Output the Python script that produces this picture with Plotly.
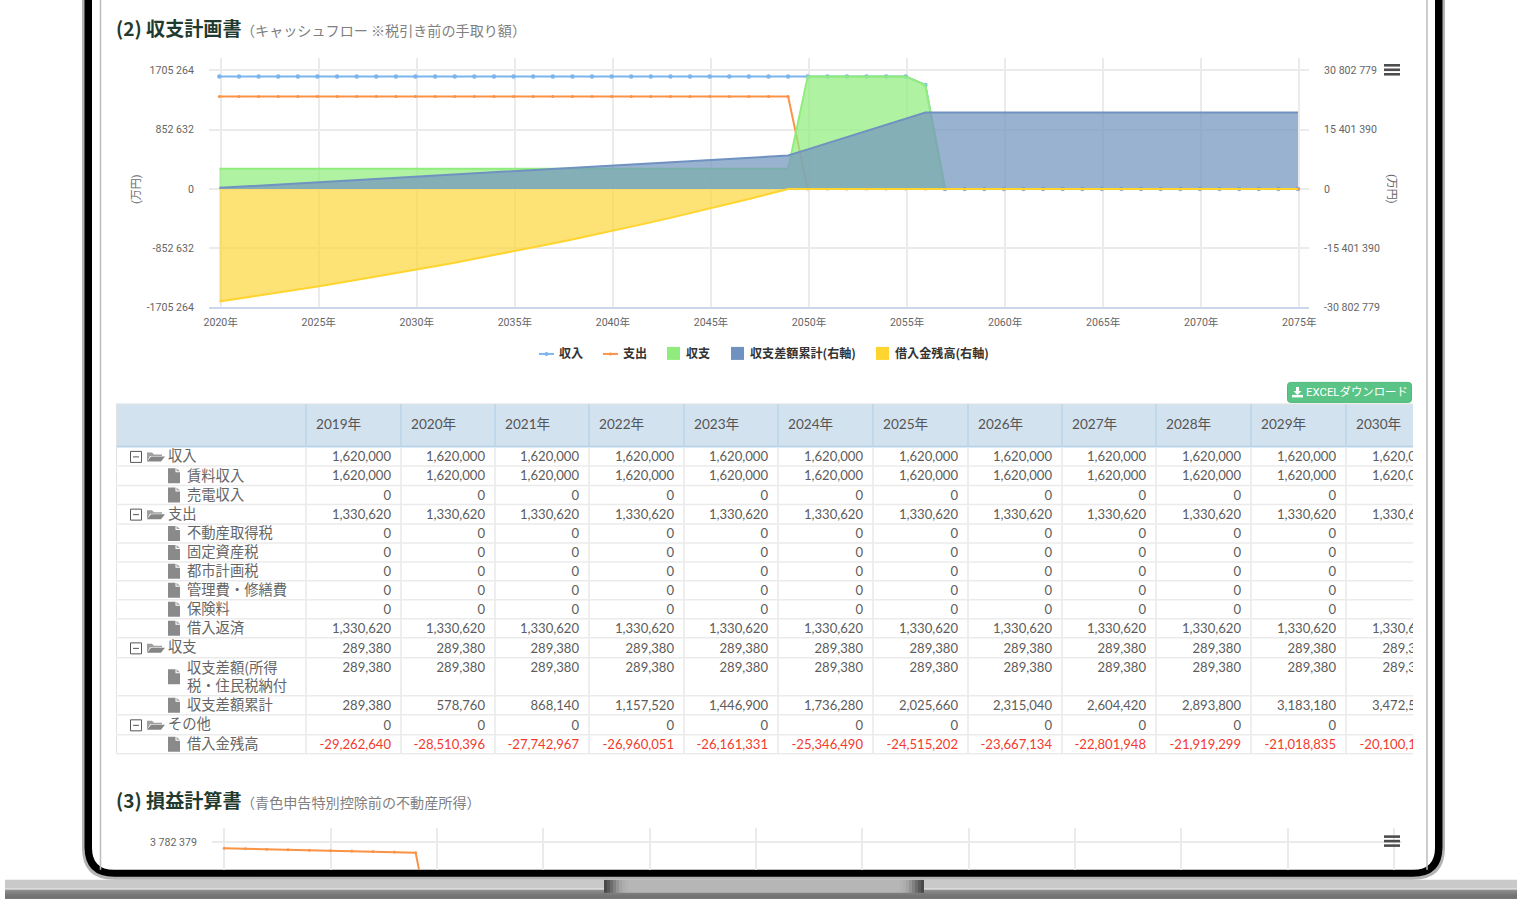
import plotly.graph_objects as go

# ---------- chart data ----------
years = list(range(2020, 2076))
income = [1620000] * 36 + [1496000] + [0] * 19
expense = [1330620] * 30 + [0] * 26
balance = [289380] * 30 + [1620000] * 6 + [1496000] + [0] * 19
cumulative = [289380, 578760, 868140, 1157520, 1446900, 1736280, 2025660, 2315040, 2604420, 2893800,
              3183180, 3472560, 3761940, 4051320, 4340700, 4630080, 4919460, 5208840, 5498220, 5787600,
              6076980, 6366360, 6655740, 6945120, 7234500, 7523880, 7813260, 8102640, 8392020, 8681400,
              10301400, 11921400, 13541400, 15161400, 16781400, 18401400, 19897400] + [19897400] * 19
loan = [-29262640, -28510396, -27742967, -26960051, -26161331, -25346490, -24515202, -23667134,
        -22801948, -21919299, -21018835, -20100195, -19163012, -18206912, -17231514, -16236428,
        -15221256, -14185594, -13129028, -12051136, -10951487, -9829642, -8685153, -7517563,
        -6326406, -5111206, -3871477, -2606725, -1316444, 0] + [0] * 26
left_ticks = [1705264, 852632, 0, -852632, -1705264]
left_labels = ["1705 264", "852 632", "0", "-852 632", "-1705 264"]
right_ticks = [30802779, 15401390, 0, -15401390, -30802779]
right_labels = ["30 802 779", "15 401 390", "0", "-15 401 390", "-30 802 779"]
x_ticks = list(range(2020, 2076, 5))
legend_names = ["収入", "支出", "収支", "収支差額累計(右軸)", "借入金残高(右軸)"]

# second (cut off) chart
pl_years = list(range(2020, 2031))
pl_values = [3590000, 3575000, 3560000, 3545000, 3530000, 3515000, 3500000, 3485000, 3470000, 3450000, 0]
pl_grid_years = list(range(2020, 2076, 5))

# ---------- table data ----------
table_years = ["2019年", "2020年", "2021年", "2022年", "2023年", "2024年", "2025年", "2026年", "2027年", "2028年", "2029年", "2030年"]
row_labels = ["収入", "賃料収入", "売電収入", "支出", "不動産取得税", "固定資産税", "都市計画税", "管理費・修繕費", "保険料", "借入返済",
              "収支", "収支差額(所得<br>税・住民税納付", "収支差額累計", "その他", "借入金残高"]
row_is_group = [True, False, False, True, False, False, False, False, False, False, True, False, False, True, False]
r_income = [1620000] * 12
r_rent = [1620000] * 12
r_solar = [0] * 12
r_expense = [1330620] * 12
r_acq = [0] * 12
r_prop = [0] * 12
r_city = [0] * 12
r_mgmt = [0] * 12
r_ins = [0] * 12
r_repay = [1330620] * 12
r_bal = [289380] * 12
r_diff = [289380] * 12
r_cum = [289380, 578760, 868140, 1157520, 1446900, 1736280, 2025660, 2315040, 2604420, 2893800, 3183180, 3472560]
r_other = [0] * 12
r_loan = [-29262640, -28510396, -27742967, -26960051, -26161331, -25346490, -24515202, -23667134, -22801948, -21919299, -21018835, -20100195]
table_rows = [r_income, r_rent, r_solar, r_expense, r_acq, r_prop, r_city, r_mgmt, r_ins, r_repay, r_bal, r_diff, r_cum, r_other, r_loan]

# ---------- layout geometry ----------
# All geometry below is in reference-picture pixels; the figure box maps onto VX0..VX1 / 0..VY1 of it.
W, H = 1525, 906
VX0, VX1, VY1 = 5.0, 1517.0, 899.2
col_edges = [306, 401, 495, 589, 684, 778, 873, 968, 1062, 1156, 1251, 1346, 1441]
row_lines = [447, 466, 485.5, 504.5, 524, 543, 562, 581, 600, 619, 638, 658, 696, 715, 735, 754]
SMALL = "Roboto, 'Noto Sans CJK JP', sans-serif"
CJK = "'Noto Sans CJK JP', sans-serif"
LATO = "Lato, 'Noto Sans CJK JP', sans-serif"
GRID = "#ebebeb"
TXT = "#666666"
TEXT_DY = 1.5

def dx(a, b):
    return [(a - VX0) / (VX1 - VX0), (b - VX0) / (VX1 - VX0)]

def dy(top, bottom):
    return [1 - bottom / VY1, 1 - top / VY1]

fig = go.Figure()

fig.add_trace(go.Scatter(x=[100], y=[100], mode="markers", marker=dict(opacity=0), hoverinfo="skip",
                         showlegend=False, xaxis="x", yaxis="y"))

def area(name, values, color, fill, yaxis):
    fig.add_trace(go.Scatter(x=years, y=values, name=name, mode="lines", line=dict(color=color, width=2),
                             fill="tozeroy", fillcolor=fill, xaxis="x2", yaxis=yaxis, showlegend=False,
                             hoverinfo="skip"))

fig.add_trace(go.Scatter(x=years, y=income, name=legend_names[0], mode="lines+markers",
                         line=dict(color="#7cb5ec", width=2), marker=dict(size=4.5, color="#7cb5ec"),
                         xaxis="x2", yaxis="y2", showlegend=False))
fig.add_trace(go.Scatter(x=years, y=expense, name=legend_names[1], mode="lines+markers",
                         line=dict(color="#fb9346", width=2), marker=dict(size=3, color="#fb9346"),
                         xaxis="x2", yaxis="y2", showlegend=False))
area(legend_names[2], balance, "#90ed7d", "rgba(144,237,125,0.72)", "y2")
area(legend_names[3], cumulative, "#7092c0", "rgba(119,152,191,0.75)", "y3")
area(legend_names[4], loan, "#ffd42e", "rgba(252,214,60,0.7)", "y3")

fig.add_trace(go.Scatter(x=pl_years, y=pl_values, mode="lines+markers", line=dict(color="#fb9346", width=2),
                         marker=dict(size=3, color="#fb9346"), xaxis="x3", yaxis="y4", showlegend=False))

num_x, num_y, num_t, num_c = [], [], [], []
for r, vals in enumerate(table_rows):
    cy = (row_lines[r] + row_lines[r + 1]) / 2
    if "<br>" in row_labels[r]:
        cy = row_lines[r] + 9.5
    for c, v in enumerate(vals):
        num_x.append(col_edges[c + 1] - 10)
        num_y.append(cy + TEXT_DY)
        num_t.append(f"{v:,}")
        num_c.append("#f23a2e" if v < 0 else "#5c5c5c")
fig.add_trace(go.Scatter(x=num_x, y=num_y, text=num_t, mode="text", textposition="middle left",
                         textfont=dict(family=LATO, size=13.1, color=num_c), marker=dict(size=1),
                         xaxis="x4", yaxis="y5", showlegend=False, hoverinfo="skip", cliponaxis=True))
hdr_x = [e + 10 for e in col_edges[:-1]]
fig.add_trace(go.Scatter(x=hdr_x, y=[424.5 + TEXT_DY - 0.5] * 12, text=table_years, mode="text", textposition="middle right",
                         textfont=dict(family=LATO, size=13.6, color="#555555"), marker=dict(size=1),
                         xaxis="x4", yaxis="y5", showlegend=False, hoverinfo="skip", cliponaxis=True))
lab_x = [168 if g else 187 for g in row_is_group]
lab_y = [(row_lines[i] + row_lines[i + 1]) / 2 - (0.5 if row_is_group[i] else 0) + TEXT_DY for i in range(15)]
fig.add_trace(go.Scatter(x=lab_x, y=lab_y, text=row_labels, mode="text", textposition="middle right",
                         textfont=dict(family=CJK, size=14.3, color="#666666"), marker=dict(size=1),
                         xaxis="x4", yaxis="y5", showlegend=False, hoverinfo="skip", cliponaxis=True))

shapes = []
def rect(x0, y0, x1, y1, fill, layer="below"):
    shapes.append(dict(type="rect", xref="x", yref="y", x0=x0, y0=y0, x1=x1, y1=y1, fillcolor=fill,
                       line=dict(width=0), layer=layer))
def seg(x0, y0, x1, y1, color, width=1, layer="below"):
    shapes.append(dict(type="line", xref="x", yref="y", x0=x0, y0=y0, x1=x1, y1=y1,
                       line=dict(color=color, width=width), layer=layer))
def path(d, fill, layer="below", lc=None, lw=0):
    shapes.append(dict(type="path", xref="x", yref="y", path=d, fillcolor=fill,
                       line=dict(width=lw, color=lc or fill), layer=layer))
def rounded(x0, x1, bottom, r, fill):
    path(f"M{x0},0 L{x0},{bottom-r} Q{x0},{bottom} {x0+r},{bottom} L{x1-r},{bottom} Q{x1},{bottom} {x1},{bottom-r} L{x1},0 Z", fill)

rect(VX0, 880, VX1, 890, "#c9c9c9")
rect(VX0, 888.5, VX1, 890, "#e2e2e2")
dark_bands = ["#777777", "#6f6f6f", "#696969", "#636363", "#5d5d5d", "#585858", "#545454", "#505050", "#4e4e4e"]
for i, c in enumerate(dark_bands):
    rect(VX0, 890 + i, VX1, 891 + i, c)
notch = ["#4a4a4a", "#5a5a5a", "#6c6c6c", "#808080", "#949494", "#a4a4a4", "#adadad", "#b2b2b2"]
for i, c in enumerate(notch):
    rect(604 + i * 3, 880, 607 + i * 3, 893, c)
    rect(921 - i * 3, 880, 924 - i * 3, 893, c)
rect(628, 880, 900, 893, "#b6b6b6")
rounded(82, 1445, 880, 32, "#b4b4b4")
rounded(84.5, 1442.5, 877, 30, "#000000")
rounded(92, 1435, 870, 22, "#ffffff")
seg(100.5, 0, 100.5, 870, "#bdbdbd", 1.5)
seg(1427, 0, 1427, 870, "#bdbdbd", 1.5)

rect(116, 404, 1413, 446, "#d2e2ef")
seg(116, 404, 1413, 404, "#e4e4e4", 1)
seg(116, 446.5, 1413, 446.5, "#b9d4e8", 2)
for e in col_edges[:-1]:
    seg(e, 404, e, 446, "#b9d4e8", 1.5)
    seg(e, 447, e, 754, "#e8e8e8", 1.5)
seg(116.5, 404, 116.5, 754, "#e2e2e2", 1)
for y in row_lines[1:]:
    seg(116, y, 1413, y, "#ebebeb", 1.5)

for i, g in enumerate(row_is_group):
    cy = (row_lines[i] + row_lines[i + 1]) / 2
    if g:
        shapes.append(dict(type="rect", xref="x", yref="y", x0=130.5, x1=141.5, y0=cy - 5, y1=cy + 6,
                           fillcolor="#ffffff", line=dict(color="#555555", width=1), layer="above"))
        seg(133, cy + 0.5, 139, cy + 0.5, "#555555", 1, "above")
        path(f"M147,{cy+5} L147,{cy-4} L152,{cy-4} L154,{cy-2} L162,{cy-2} L162,{cy-0.5} L150,{cy-0.5} Z", "#a0a0a0", "above")
        path(f"M147,{cy+5} L151,{cy} L165,{cy} L161,{cy+5} Z", "#858585", "above")
    else:
        path(f"M168,{cy-7.5} L175.5,{cy-7.5} L175.5,{cy-3.5} L180,{cy-3.5} L180,{cy+7.5} L168,{cy+7.5} Z", "#8a8a8a", "above")
        path(f"M176.5,{cy-7.5} L180,{cy-4.5} L176.5,{cy-4.5} Z", "#a5a5a5", "above")

path("M1290.5,382.5 L1408.5,382.5 Q1411.5,382.5 1411.5,385.5 L1411.5,399.5 Q1411.5,402.5 1408.5,402.5 "
     "L1290.5,402.5 Q1287.5,402.5 1287.5,399.5 L1287.5,385.5 Q1287.5,382.5 1290.5,382.5 Z", "#5ac487", "below", "#4fb87c", 1)
path("M1296,387 L1299,387 L1299,391 L1301.5,391 L1297.5,395 L1293.5,391 L1296,391 Z", "#ffffff", "above")
rect(1292, 395, 1303, 397.5, "#ffffff", "above")

for top in (64, 835.5):
    for k in (0, 4.5, 9):
        rect(1384, top + k, 1400, top + k + 2.6, "#4d4d4d", "above")

seg(539, 354, 554, 354, "#7cb5ec", 2, "above")
shapes.append(dict(type="circle", xref="x", yref="y", x0=544.5, x1=548.5, y0=352, y1=356, fillcolor="#7cb5ec", line=dict(width=0), layer="above"))
seg(603, 354, 618, 354, "#fb9346", 2, "above")
shapes.append(dict(type="circle", xref="x", yref="y", x0=609, x1=612, y0=352.5, y1=355.5, fillcolor="#fb9346", line=dict(width=0), layer="above"))
rect(667, 347, 680, 360, "#90ed7d", "above")
rect(731, 347, 744, 360, "#7092c0", "above")
rect(876, 347, 889, 360, "#ffd42e", "above")

ann = []
def label(x, y, text, size, color, family=CJK, xanchor="left", angle=0):
    ann.append(dict(xref="x", yref="y", x=x, y=y, text=text, showarrow=False, xanchor=xanchor, yanchor="middle",
                    font=dict(family=family, size=size, color=color), textangle=angle))

label(114, 28, "<b>(2) 収支計画書</b>", 19.1, "#1f3a2e")
label(238.5, 30, "（キャッシュフロー ※税引き前の手取り額）", 14.1, "#808080")
label(114, 800, "<b>(3) 損益計算書</b>", 19.1, "#1f3a2e")
label(238.5, 802, "（青色申告特別控除前の不動産所得）", 14.1, "#808080")
label(137, 189, "(万円)", 11, TXT, SMALL, "center", -90)
label(1391, 189, "(万円)", 11, TXT, SMALL, "center", 90)
for x, name in zip([557, 621, 684, 748, 893], legend_names):
    label(x, 353, f"<b>{name}</b>", 12.1, "#333333")
label(1303.5, 392.5, "EXCELダウンロード", 11.4, "#ffffff", SMALL)

tickfont = dict(family=SMALL, size=10.6, color=TXT)
clear = "rgba(0,0,0,0)"
hidden = dict(visible=False, fixedrange=True)

x_off = 0.066
main_x = dict(domain=dx(209, 1309), range=[2019.47, 2075.56], tickmode="array",
              tickvals=[y + x_off for y in x_ticks], ticktext=[f"{y}年" for y in x_ticks],
              showgrid=True, gridcolor=GRID, gridwidth=1.5, zeroline=False, showline=True, linecolor="#ccd6eb", linewidth=1.5,
              ticks="outside", ticklen=4, tickcolor=clear, tickfont=tickfont, anchor="y2", fixedrange=True)

fig.update_layout(
    width=W, height=H, autosize=False, margin=dict(l=0, r=0, t=0, b=0), showlegend=False,
    paper_bgcolor="#ffffff", plot_bgcolor=clear, hovermode=False,
    xaxis=dict(domain=[0, 1], range=[VX0, VX1], anchor="y", **hidden),
    yaxis=dict(domain=[0, 1], range=[VY1, 0], anchor="x", **hidden),
    xaxis2=main_x,
    yaxis2=dict(domain=dy(58, 307.5), range=[-1705264, 1885090], tickmode="array", tickvals=left_ticks, ticktext=left_labels,
                showgrid=True, gridcolor=GRID, gridwidth=1.5, zeroline=False, ticks="outside", ticklen=12, tickcolor=clear,
                tickfont=tickfont, anchor="x2", fixedrange=True),
    yaxis3=dict(domain=dy(58, 307.5), range=[-30802779, 34052000], tickmode="array", tickvals=right_ticks, ticktext=right_labels,
                showgrid=False, zeroline=False, ticks="outside", ticklen=12, tickcolor=clear, tickfont=tickfont,
                overlaying="y2", side="right", anchor="x2", fixedrange=True),
    xaxis3=dict(domain=dx(212, 1402), range=[2020 - 12.2 / 21.27, 2020 + 1177.8 / 21.27], tickmode="array",
                tickvals=pl_grid_years, ticktext=[""] * len(pl_grid_years), showgrid=True, gridcolor=GRID, gridwidth=1.5,
                zeroline=False, showline=False, anchor="y4", fixedrange=True),
    yaxis4=dict(domain=dy(828, 870), range=[2901000, 4247000], tickmode="array", tickvals=[3782379], ticktext=["3 782 379"],
                showgrid=True, gridcolor=GRID, gridwidth=1.5, zeroline=False, ticks="outside", ticklen=12, tickcolor=clear,
                tickfont=tickfont, anchor="x3", fixedrange=True),
    xaxis4=dict(domain=dx(116, 1413), range=[116, 1413], anchor="y5", **hidden),
    yaxis5=dict(domain=dy(404, 754), range=[754, 404], anchor="x4", **hidden),
    shapes=shapes, annotations=ann,
)

fig.write_html("out.html", config=dict(displayModeBar=False, responsive=False),
               post_script="var s=document.createElement('style');s.textContent='html,body{margin:0!important;padding:0!important;overflow:hidden}';document.head.appendChild(s);")
